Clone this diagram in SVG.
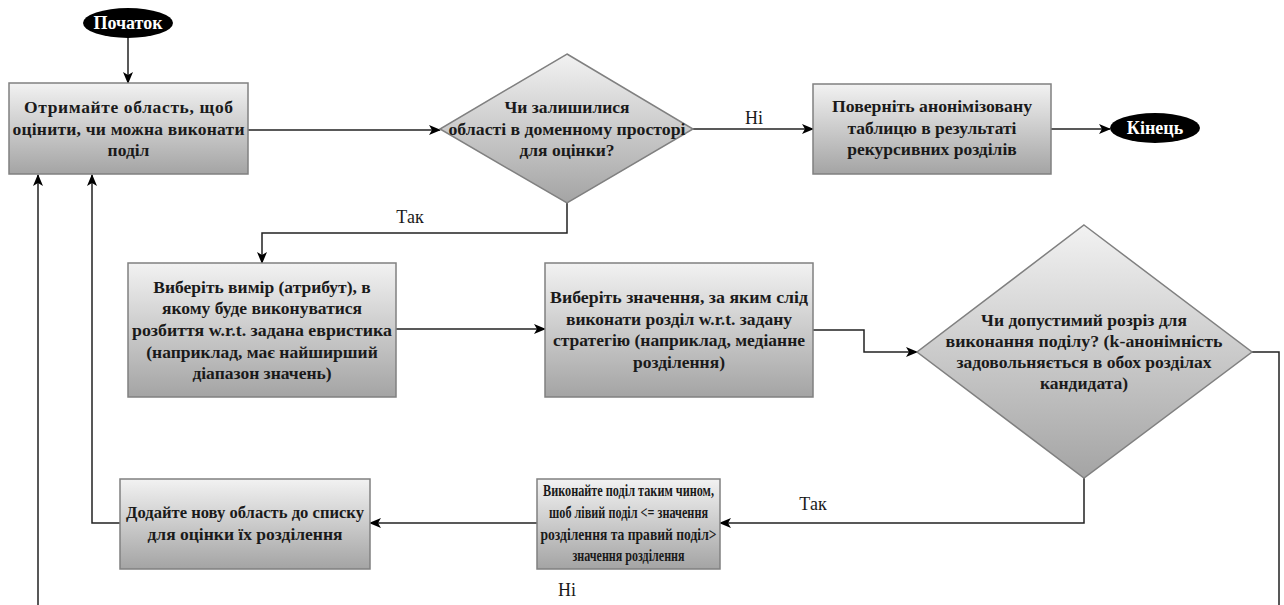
<svg xmlns="http://www.w3.org/2000/svg" width="1284" height="605" viewBox="0 0 1284 605">
<defs>
<linearGradient id="g" x1="0" y1="0" x2="0" y2="1">
<stop offset="0" stop-color="#f2f2f2"/>
<stop offset="1" stop-color="#a4a4a4"/>
</linearGradient>
<marker id="ah" viewBox="0 0 12 10" refX="11" refY="5" markerWidth="12" markerHeight="10" markerUnits="userSpaceOnUse" orient="auto">
<path d="M0,0 L12,5 L0,10 L3,5 Z" fill="#000"/>
</marker>
<style>
.box{fill:url(#g);stroke:#808080;stroke-width:1.5}
.term{fill:#000}
.t{font-family:"Liberation Serif","Times New Roman",serif;font-weight:bold;font-size:17.5px;fill:#1a1a1a;text-anchor:middle}
.tw{font-family:"Liberation Serif","Times New Roman",serif;font-weight:bold;font-size:18px;fill:#fff;text-anchor:middle}
.lbl{font-family:"Liberation Serif","Times New Roman",serif;font-size:18px;fill:#1a1a1a;text-anchor:middle}
.c{fill:none;stroke:#222;stroke-width:1.5;marker-end:url(#ah)}
</style>
</defs>
<rect width="1284" height="605" fill="#fff"/>
<g id="connectors">
<path class="c" d="M128,38 V83"/>
<path class="c" d="M248,130 H440"/>
<path class="c" d="M693,129 H813"/>
<path class="c" d="M1051,129 H1110"/>
<path class="c" d="M567,203 V233 H262 V263"/>
<path class="c" d="M396,329 H545"/>
<path class="c" d="M813,330 H864 V352 H917"/>
<path class="c" d="M1084,478 V523 H720"/>
<path class="c" d="M537,523 H370"/>
<path class="c" d="M120,523 H92 V175"/>
<path class="c" d="M1252,352 H1279 V625 H38 V175"/>
<text class="lbl" x="754" y="124">Ні</text>
<text class="lbl" x="410" y="223">Так</text>
<text class="lbl" x="813" y="510">Так</text>
<text class="lbl" x="567" y="596">Ні</text>
</g>
<g id="start">
<ellipse class="term" cx="128" cy="23" rx="45" ry="15"/>
<text class="tw" x="128" y="29">Початок</text>
</g>
<g id="box1">
<rect class="box" x="9" y="83" width="239" height="91"/>
<text class="t" x="128.5" y="113" textLength="209">Отримайте область, щоб</text>
<text class="t" x="128.5" y="135" textLength="232">оцінити, чи можна виконати</text>
<text class="t" x="128.5" y="156">поділ</text>
</g>
<g id="decision1">
<polygon class="box" points="567,54 693,129 567,203 440,129"/>
<text class="t" x="567" y="113">Чи залишилися</text>
<text class="t" x="567" y="135" textLength="237" lengthAdjust="spacingAndGlyphs">області в доменному просторі</text>
<text class="t" x="567" y="156">для оцінки?</text>
</g>
<g id="boxReturn">
<rect class="box" x="813" y="84" width="238" height="90"/>
<text class="t" x="932" y="112" textLength="200" lengthAdjust="spacingAndGlyphs">Поверніть анонімізовану</text>
<text class="t" x="932" y="134">таблицю в результаті</text>
<text class="t" x="932" y="155">рекурсивних розділів</text>
</g>
<g id="end">
<ellipse class="term" cx="1155" cy="128" rx="45" ry="15"/>
<text class="tw" x="1155" y="134">Кінець</text>
</g>
<g id="box2">
<rect class="box" x="128" y="263" width="268" height="134"/>
<text class="t" x="262" y="293">Виберіть вимір (атрибут), в</text>
<text class="t" x="262" y="314">якому буде виконуватися</text>
<text class="t" x="262" y="336" textLength="260" lengthAdjust="spacingAndGlyphs">розбиття w.r.t. задана евристика</text>
<text class="t" x="262" y="358">(наприклад, має найширший</text>
<text class="t" x="262" y="379">діапазон значень)</text>
</g>
<g id="box3">
<rect class="box" x="545" y="263" width="268" height="134"/>
<text class="t" x="679" y="303" textLength="258" lengthAdjust="spacingAndGlyphs">Виберіть значення, за яким слід</text>
<text class="t" x="679" y="325">виконати розділ w.r.t. задану</text>
<text class="t" x="679" y="346">стратегію (наприклад, медіанне</text>
<text class="t" x="679" y="368">розділення)</text>
</g>
<g id="decision2">
<polygon class="box" points="1084,225 1252,352 1084,478 917,352"/>
<text class="t" x="1084" y="326">Чи допустимий розріз для</text>
<text class="t" x="1084" y="347" textLength="277" lengthAdjust="spacingAndGlyphs">виконання поділу? (k-анонімність</text>
<text class="t" x="1084" y="368">задовольняється в обох розділах</text>
<text class="t" x="1084" y="389">кандидата)</text>
</g>
<g id="boxSplit">
<rect class="box" x="537" y="479" width="183" height="90"/>
<text class="t" x="628.5" y="496" textLength="171" lengthAdjust="spacingAndGlyphs">Виконайте поділ таким чином,</text>
<text class="t" x="628.5" y="518" textLength="159" lengthAdjust="spacingAndGlyphs">шоб лівий поділ &lt;= значення</text>
<text class="t" x="628.5" y="540" textLength="176" lengthAdjust="spacingAndGlyphs">розділення та правий поділ&gt;</text>
<text class="t" x="628.5" y="561" textLength="112" lengthAdjust="spacingAndGlyphs">значення розділення</text>
</g>
<g id="boxAdd">
<rect class="box" x="120" y="479" width="250" height="90"/>
<text class="t" x="245" y="518" textLength="238" lengthAdjust="spacingAndGlyphs">Додайте нову область до списку</text>
<text class="t" x="245" y="540">для оцінки їх розділення</text>
</g>
</svg>
